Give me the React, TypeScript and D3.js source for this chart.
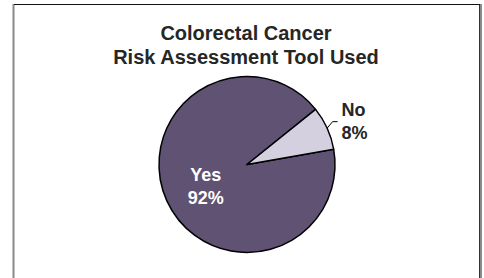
import { useEffect, useRef } from 'react';
import * as d3 from 'd3';

const categories = ['Yes', 'No'];
const values = [92, 8];
const sliceColors = ['#5f5273', '#d4d0e0'];
const titleLines = ['Colorectal Cancer', 'Risk Assessment Tool Used'];

const W = 484;
const H = 278;

export default function App() {
  const svgRef = useRef<SVGSVGElement>(null);

  useEffect(() => {
    if (!svgRef.current) return;
    const svg = d3.select(svgRef.current);
    svg.selectAll('*').remove();

    const font = 'Liberation Sans, Arial, Helvetica, sans-serif';

    // frame
    svg.append('rect').attr('x', 0).attr('y', 0).attr('width', W).attr('height', H).attr('fill', '#fff');
    svg.append('line').attr('x1', 13.5).attr('x2', 13.5).attr('y1', 4).attr('y2', H)
      .attr('stroke', '#8a8a8a').attr('stroke-width', 2);
    svg.append('line').attr('x1', 481).attr('x2', 481).attr('y1', 4).attr('y2', H)
      .attr('stroke', '#8a8a8a').attr('stroke-width', 2);
    svg.append('line').attr('x1', 479.5).attr('x2', 479.5).attr('y1', 4).attr('y2', H)
      .attr('stroke', '#333').attr('stroke-width', 1);
    svg.append('line').attr('x1', 14).attr('x2', 480).attr('y1', 4.5).attr('y2', 4.5)
      .attr('stroke', '#111').attr('stroke-width', 1);

    // title
    const title = svg.append('text')
      .attr('x', 247)
      .attr('text-anchor', 'middle')
      .attr('font-family', font)
      .attr('font-weight', 'bold')
      .attr('font-size', 20)
      .attr('fill', '#262626');
    titleLines.forEach((line, i) => {
      title.append('tspan').attr('x', 246).attr('y', 40 + i * 24).text(line);
    });

    // pie
    const cx = 247;
    const cy = 164.5;
    const r = 88;
    const data = categories.map((c, i) => ({ label: c, value: values[i] }));
    const start = (80 * Math.PI) / 180;
    const pie = d3.pie<{ label: string; value: number }>()
      .value((d) => d.value)
      .sort(null)
      .startAngle(start)
      .endAngle(start + 2 * Math.PI);
    const arcs = pie(data);
    const arc = d3.arc<d3.PieArcDatum<{ label: string; value: number }>>()
      .innerRadius(0)
      .outerRadius(r);

    const g = svg.append('g').attr('transform', `translate(${cx},${cy})`);
    g.selectAll('path')
      .data(arcs)
      .join('path')
      .attr('d', arc)
      .attr('fill', (_, i) => sliceColors[i])
      .attr('stroke', '#000')
      .attr('stroke-width', 1.5)
      .attr('stroke-linejoin', 'round');

    // Yes label inside
    const inner = d3.arc<d3.PieArcDatum<{ label: string; value: number }>>()
      .innerRadius(43)
      .outerRadius(43);
    const [yx, yy] = inner.centroid(arcs[0]);
    const yesText = g.append('text')
      .attr('text-anchor', 'middle')
      .attr('font-family', font)
      .attr('font-weight', 'bold')
      .attr('font-size', 18)
      .attr('fill', '#fff');
    yesText.append('tspan').attr('x', yx - 2).attr('y', yy - 1).text(arcs[0].data.label);
    yesText.append('tspan').attr('x', yx - 2).attr('y', yy + 22).text(`${arcs[0].data.value}%`);

    // No label outside with leader
    const mid = (arcs[1].startAngle + arcs[1].endAngle) / 2;
    const p0 = [Math.sin(mid) * r, -Math.cos(mid) * r];
    const p1 = [Math.sin(mid) * (r + 6), -Math.cos(mid) * (r + 6) - 4];
    const p2 = [p1[0] + 5, p1[1]];
    g.append('polyline')
      .attr('points', [p0, p1, p2].map((p) => p.join(',')).join(' '))
      .attr('fill', 'none')
      .attr('stroke', '#000')
      .attr('stroke-width', 1);
    const noText = g.append('text')
      .attr('font-family', font)
      .attr('font-weight', 'bold')
      .attr('font-size', 18)
      .attr('fill', '#262626');
    noText.append('tspan').attr('x', p2[0] + 4).attr('y', p2[1] - 6).text(arcs[1].data.label);
    noText.append('tspan').attr('x', p2[0] + 4).attr('y', p2[1] + 17).text(`${arcs[1].data.value}%`);
  }, []);

  return (
    <svg
      ref={svgRef}
      width={W}
      height={H}
      style={{ position: 'absolute', left: 0, top: 0 }}
    />
  );
}
